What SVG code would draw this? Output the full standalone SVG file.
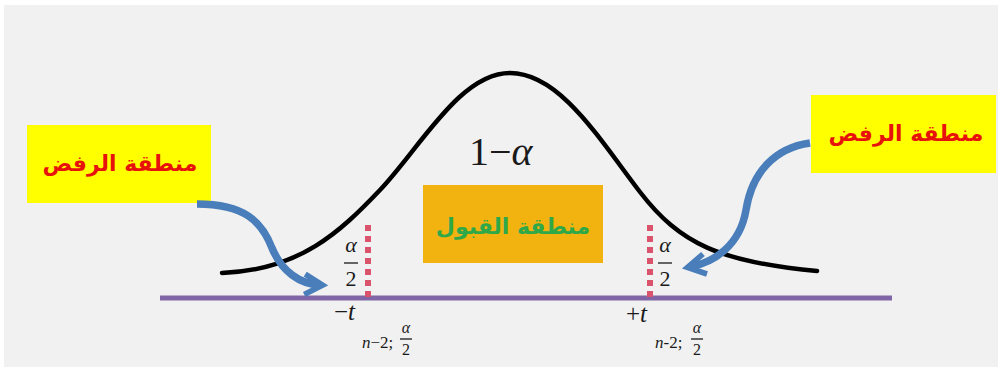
<svg xmlns="http://www.w3.org/2000/svg" width="998" height="367" viewBox="0 0 998 367">
<defs>
<style>
.ar{font-family:"DejaVu Sans","Noto Sans",sans-serif;font-weight:bold;text-anchor:middle}
.rej{fill:#e8120c;font-size:22px}
.acc{fill:#2fa84a;font-size:22px}
.m{font-family:'Liberation Serif','Times New Roman',serif;fill:#1a1a1a}
.i{font-style:italic}
.arrow{fill:none;stroke:#4a7ebb;stroke-width:7.5;stroke-linecap:butt}
.dash{stroke:#d9546c;stroke-width:6;stroke-dasharray:6 5}
.bar{stroke:#1a1a1a;stroke-width:1.3}
</style>
<marker id="head" viewBox="0 0 10 10" refX="7" refY="5" markerWidth="3.4" markerHeight="3.4" orient="auto" markerUnits="strokeWidth">
<path d="M1,1 L8,5 L1,9" fill="none" stroke="#4a7ebb" stroke-width="2.2" stroke-linejoin="miter"/>
</marker>
</defs>
<rect x="0" y="0" width="998" height="367" fill="#ffffff"/>
<rect x="4" y="5" width="994" height="362" fill="#f1f1f1"/>

<g id="curve">
<path d="M222,273 C300,270 340,232 380,190 S460,73 510,73 S600,140 640,192 S720,262 817,271" fill="none" stroke="#000" stroke-width="4.5" stroke-linecap="round"/>
</g>

<g id="axis">
<line x1="160" y1="298" x2="892" y2="298" stroke="#8066a6" stroke-width="5"/>
</g>

<g id="critical-lines">
<line class="dash" x1="368" y1="225" x2="368" y2="300"/>
<line class="dash" x1="650" y1="225" x2="650" y2="300"/>
</g>

<g id="reject-left">
<rect x="27" y="125" width="184" height="78" fill="#ffff00"/>
<text class="ar rej" x="120" y="171">منطقة الرفض</text>
</g>

<g id="reject-right">
<rect x="811" y="95" width="185" height="78" fill="#ffff00"/>
<text class="ar rej" x="906" y="141">منطقة الرفض</text>
</g>

<g id="accept">
<rect x="423" y="185" width="180" height="78" fill="#f2b20f"/>
<text class="ar acc" x="513" y="234">منطقة القبول</text>
</g>

<g id="one-minus-alpha">
<text class="m" x="469" y="165" font-size="40" font-family="Liberation Serif, serif">1−<tspan font-style="italic">α</tspan></text>
</g>

<g id="alpha-half-left">
<text class="m" x="351" y="252" font-size="22" font-style="italic" text-anchor="middle" font-family="Liberation Serif, serif">α</text>
<line class="bar" x1="344" y1="263" x2="358" y2="263"/>
<text class="m" x="351" y="286" font-size="22" text-anchor="middle" font-family="Liberation Serif, serif">2</text>
</g>

<g id="alpha-half-right">
<text class="m" x="665" y="252" font-size="22" font-style="italic" text-anchor="middle" font-family="Liberation Serif, serif">α</text>
<line class="bar" x1="658" y1="263" x2="672" y2="263"/>
<text class="m" x="665" y="286" font-size="22" text-anchor="middle" font-family="Liberation Serif, serif">2</text>
</g>

<g id="t-left">
<text class="m" x="334" y="320" font-size="25" font-family="Liberation Serif, serif">−<tspan font-style="italic">t</tspan></text>
<text class="m" x="362" y="348" font-size="17" font-family="Liberation Serif, serif"><tspan font-style="italic">n</tspan>−2;</text>
<text class="m" x="406" y="333" font-size="16" font-style="italic" text-anchor="middle" font-family="Liberation Serif, serif">α</text>
<line class="bar" x1="400" y1="339" x2="412" y2="339"/>
<text class="m" x="406" y="355" font-size="16" text-anchor="middle" font-family="Liberation Serif, serif">2</text>
</g>

<g id="t-right">
<text class="m" x="626" y="322" font-size="25" font-family="Liberation Serif, serif">+<tspan font-style="italic">t</tspan></text>
<text class="m" x="655" y="348" font-size="17" font-family="Liberation Serif, serif"><tspan font-style="italic">n</tspan>-2;</text>
<text class="m" x="697" y="333" font-size="16" font-style="italic" text-anchor="middle" font-family="Liberation Serif, serif">α</text>
<line class="bar" x1="691" y1="339" x2="703" y2="339"/>
<text class="m" x="697" y="355" font-size="16" text-anchor="middle" font-family="Liberation Serif, serif">2</text>
</g>

<g id="connectors">
<path class="arrow" d="M197,204 C245,204 262,222 272,248 C282,272 300,284 320,285" marker-end="url(#head)"/>
<path class="arrow" d="M810,143 C775,148 752,172 746,210 C740,245 715,262 690,267" marker-end="url(#head)"/>
</g>
</svg>
